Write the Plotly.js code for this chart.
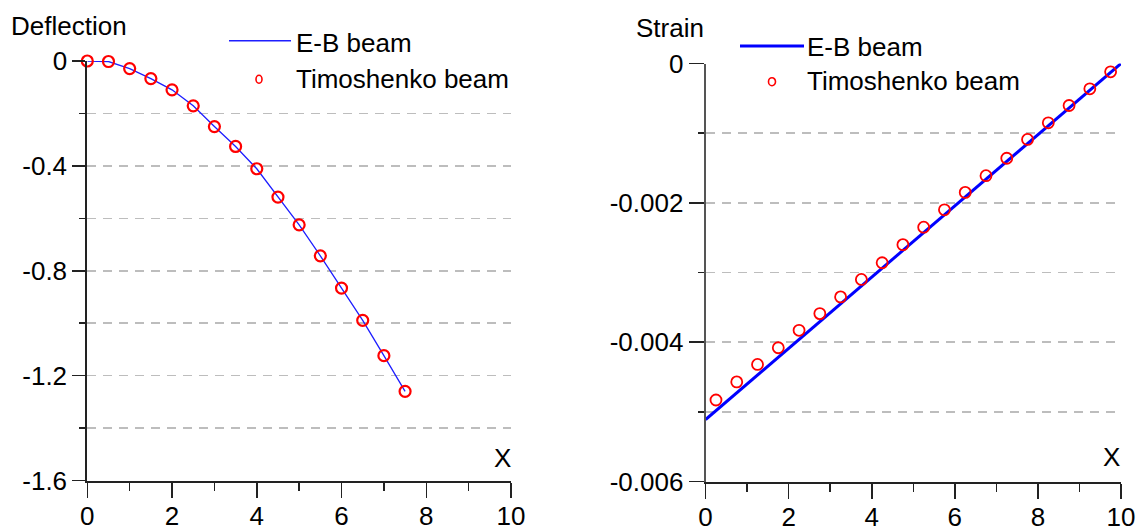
<!DOCTYPE html>
<html>
<head>
<meta charset="utf-8">
<script src="https://cdn.plot.ly/plotly-3.0.1.min.js"></script>
<style>
  html, body { margin: 0; padding: 0; background: #fff; }
  #chart { width: 1140px; height: 531px; }
</style>
</head>
<body>
<div id="chart"></div>
<script>
// Beam positions along the span
const deflectionX = [0, 0.5, 1, 1.5, 2, 2.5, 3, 3.5, 4, 4.5, 5, 5.5, 6, 6.5, 7, 7.5];
// Euler-Bernoulli deflection
const deflectionEB = [0, -0.002, -0.029, -0.067, -0.110, -0.171, -0.250, -0.326, -0.411, -0.519, -0.625, -0.743, -0.866, -0.989, -1.124, -1.260];
// Timoshenko deflection
const deflectionTim = [0, -0.002, -0.029, -0.067, -0.110, -0.171, -0.250, -0.326, -0.411, -0.519, -0.625, -0.743, -0.866, -0.989, -1.124, -1.260];

// Strain: Euler-Bernoulli line end points and Timoshenko samples
const strainEBX = [0, 10];
const strainEB = [-0.00511, 0];
const strainX = [0.25, 0.75, 1.25, 1.75, 2.25, 2.75, 3.25, 3.75, 4.25, 4.75, 5.25, 5.75, 6.25, 6.75, 7.25, 7.75, 8.25, 8.75, 9.25, 9.75];
const strainTim = [-0.00483, -0.00457, -0.00432, -0.00408, -0.00383, -0.00359, -0.00335, -0.00310, -0.00286, -0.00260,
                   -0.00235, -0.00210, -0.00185, -0.00161, -0.00136, -0.00109, -0.000851, -0.000603, -0.000363, -0.000119];

// Tick labels (plain hyphen minus)
const deflectionTickVals = [0, -0.4, -0.8, -1.2, -1.6];
const deflectionTickText = ['0', '-0.4', '-0.8', '-1.2', '-1.6'];
const strainTickVals = [0, -0.002, -0.004, -0.006];
const strainTickText = ['0', '-0.002', '-0.004', '-0.006'];
const xTickVals = [0, 2, 4, 6, 8, 10];
const xTickText = ['0', '2', '4', '6', '8', '10'];

const legendLabels = ['E-B beam', 'Timoshenko beam'];

const W = 1140, H = 531;
const FONT = '"Liberation Sans", Arial, sans-serif';
const px = v => v / W;          // horizontal pixel -> paper
const py = v => 1 - v / H;      // vertical pixel -> paper

const traces = [
  { x: deflectionX, y: deflectionEB, xaxis: 'x', yaxis: 'y', mode: 'lines',
    line: { color: 'rgb(30,30,255)', width: 1.3 }, cliponaxis: false, name: legendLabels[0] },
  { x: deflectionX, y: deflectionTim, xaxis: 'x', yaxis: 'y', mode: 'markers',
    marker: { symbol: 'circle-open', size: 11, color: 'rgb(255,0,0)', line: { width: 2.2 } },
    cliponaxis: false, name: legendLabels[1] },
  { x: strainEBX, y: strainEB, xaxis: 'x2', yaxis: 'y2', mode: 'lines',
    line: { color: 'rgb(0,0,255)', width: 3 }, cliponaxis: false, name: legendLabels[0] },
  { x: strainX, y: strainTim, xaxis: 'x2', yaxis: 'y2', mode: 'markers',
    marker: { symbol: 'circle-open', size: 11, color: 'rgb(255,0,0)', line: { width: 1.8 } },
    cliponaxis: false, name: legendLabels[1] }
];

function xAxis(domain) {
  return {
    domain: domain, range: [0, 10], fixedrange: true,
    tickmode: 'array', tickvals: xTickVals, ticktext: xTickText,
    ticks: 'outside', ticklen: 15, tickwidth: 1.5, tickcolor: '#222',
    ticklabelstandoff: -4,
    minor: { tickmode: 'linear', tick0: 0, dtick: 1, ticks: 'outside', ticklen: 8, tickwidth: 1.5, tickcolor: '#222' },
    showline: true, linecolor: '#222', linewidth: 2,
    showgrid: false, zeroline: false,
    tickfont: { family: FONT, size: 26, color: '#000' }
  };
}

function yAxis(domain, range, vals, text, dtick, anchor, lineColor, ticklen) {
  return {
    domain: domain, range: range, anchor: anchor, fixedrange: true,
    tickmode: 'array', tickvals: vals, ticktext: text,
    ticks: 'outside', ticklen: ticklen, tickwidth: 1.5, tickcolor: '#222',
    minor: { tickmode: 'linear', tick0: 0, dtick: dtick, ticks: 'outside', ticklen: 6, tickwidth: 1.5,
             tickcolor: '#222', showgrid: true, gridcolor: '#bdbdbd', gridwidth: 1.5, griddash: '9px,7px' },
    showgrid: true, gridcolor: '#bdbdbd', gridwidth: 1.5, griddash: '9px,7px',
    showline: true, linecolor: lineColor, linewidth: 2, zeroline: false,
    tickfont: { family: FONT, size: 26, color: '#000' }
  };
}

const textFont = { family: FONT, size: 26, color: '#000' };
function label(text, x, y, anchor) {
  return { text: text, xref: 'paper', yref: 'paper', x: px(x), y: py(y),
           xanchor: anchor || 'left', yanchor: 'middle', showarrow: false, font: textFont };
}

const layout = {
  width: W, height: H,
  margin: { l: 0, r: 0, t: 0, b: 0 },
  paper_bgcolor: '#fff', plot_bgcolor: '#fff',
  showlegend: false,
  xaxis: Object.assign(xAxis([px(87.3), px(511)]), { anchor: 'y' }),
  yaxis: yAxis([py(480.5), py(61)], [-1.6, 0], deflectionTickVals, deflectionTickText, 0.2, 'x', '#222', 13),
  xaxis2: Object.assign(xAxis([px(705.6), px(1121)]), { anchor: 'y2' }),
  yaxis2: yAxis([py(481.5), py(63.5)], [-0.006, 0], strainTickVals, strainTickText, 0.001, 'x2', '#555', 15),
  annotations: [
    label('Deflection', 9, 26),
    label('X', 502.5, 458, 'center'),
    label('Strain', 634, 28),
    label('X', 1111, 457, 'center'),
    label(legendLabels[0], 294, 43),
    label(legendLabels[1], 294, 79),
    label(legendLabels[0], 805, 47),
    label(legendLabels[1], 805, 81)
  ],
  shapes: [
    // legend keys, deflection panel
    { type: 'line', xref: 'paper', yref: 'paper', x0: px(229), x1: px(291), y0: py(40.7), y1: py(40.7),
      line: { color: 'rgb(30,30,255)', width: 1.5 } },
    { type: 'circle', xref: 'paper', yref: 'paper', xsizemode: 'pixel', ysizemode: 'pixel',
      xanchor: px(259), yanchor: py(79.3), x0: -3, x1: 3, y0: -4, y1: 4,
      line: { color: 'rgb(255,0,0)', width: 1.6 } },
    // legend keys, strain panel
    { type: 'line', xref: 'paper', yref: 'paper', x0: px(740), x1: px(804), y0: py(46), y1: py(46),
      line: { color: 'rgb(0,0,255)', width: 3 } },
    { type: 'circle', xref: 'paper', yref: 'paper', xsizemode: 'pixel', ysizemode: 'pixel',
      xanchor: px(772), yanchor: py(81.7), x0: -3.5, x1: 3.5, y0: -4, y1: 4,
      line: { color: 'rgb(255,0,0)', width: 1.6 } }
  ]
};

Plotly.newPlot('chart', traces, layout, { staticPlot: true, displayModeBar: false });
</script>
</body>
</html>
